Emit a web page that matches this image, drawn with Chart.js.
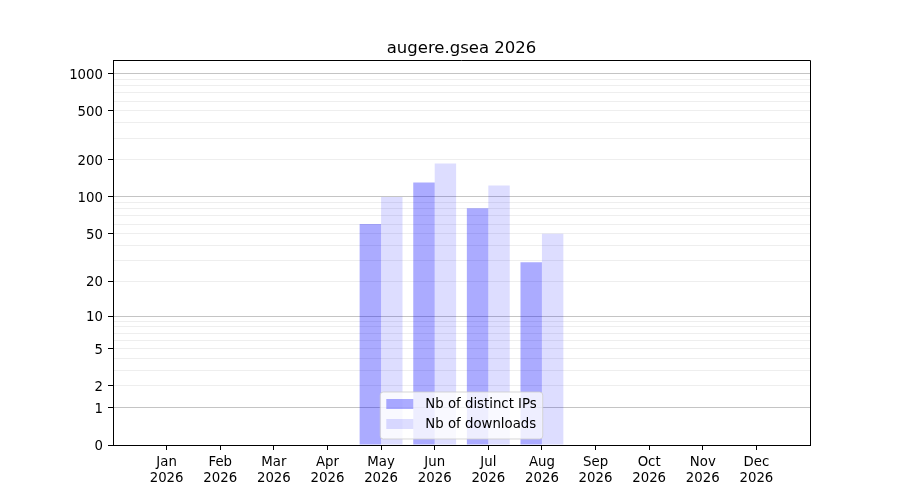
<!DOCTYPE html>
<html>
<head>
<meta charset="utf-8">
<script src="https://cdn.jsdelivr.net/npm/chart.js@4.4.1/dist/chart.umd.min.js"></script>
<style>
  body { margin: 0; background: #fff; }
  canvas { display: block; }
</style>
</head>
<body>
<canvas id="downloads-chart" width="900" height="500"></canvas>
<script>
const TITLE = 'augere.gsea 2026';
const YEAR = '2026';
const MONTHS = ['Jan', 'Feb', 'Mar', 'Apr', 'May', 'Jun', 'Jul', 'Aug', 'Sep', 'Oct', 'Nov', 'Dec'];
const DISTINCT_IPS = [0, 0, 0, 0, 60, 131, 81, 29, 0, 0, 0, 0];
const DOWNLOADS = [0, 0, 0, 0, 100, 187, 124, 50, 0, 0, 0, 0];
const Y_TICK_LABELS = [0, 1, 2, 5, 10, 20, 50, 100, 200, 500, 1000];
const Y_GRID_VALUES = [0, 1, 2, 3, 4, 5, 6, 7, 8, 9, 10, 20, 30, 40, 50, 60, 70, 80, 90, 100,
    200, 300, 400, 500, 600, 700, 800, 900, 1000];
const Y_MAX = 1290;

const FONT = "'DejaVu Sans', sans-serif";

// y axis drawn on log10(1 + value), so that 0 still fits
class Log1pScale extends Chart.Scale {
    determineDataLimits() {
        const { min, max } = this.getMinMax(true);
        this.min = this.options.min ?? min;
        this.max = this.options.max ?? max;
    }
    buildTicks() {
        return Y_GRID_VALUES.filter(v => v >= this.min && v <= this.max).map(v => ({ value: v }));
    }
    configure() {
        super.configure();
        this._lo = Math.log10(1 + this.min);
        this._span = Math.log10(1 + this.max) - this._lo;
    }
    getLabelForValue(value) {
        return String(value);
    }
    getPixelForValue(value) {
        return this.getPixelForDecimal((Math.log10(1 + value) - this._lo) / this._span);
    }
    getValueForPixel(pixel) {
        return Math.pow(10, this._lo + this.getDecimalForPixel(pixel) * this._span) - 1;
    }
}
Log1pScale.id = 'log1p';
Log1pScale.defaults = {};
Chart.register(Log1pScale);

function isPowerOfTen(v) {
    return v >= 1 && Math.abs(Math.log10(v) - Math.round(Math.log10(v))) < 1e-9;
}

// top and right spines, title centred over the axes
const framePlugin = {
    id: 'frame',
    afterDatasetsDraw(chart) {
        const { ctx, chartArea: a } = chart;
        ctx.save();
        ctx.strokeStyle = '#000';
        ctx.lineWidth = 1;
        ctx.beginPath();
        ctx.moveTo(a.left, a.top + 0.5);
        ctx.lineTo(a.right + 0.5, a.top + 0.5);
        ctx.lineTo(a.right + 0.5, a.bottom);
        ctx.stroke();

        ctx.font = '16.5px ' + FONT;
        ctx.fillStyle = '#000';
        ctx.textAlign = 'center';
        ctx.textBaseline = 'alphabetic';
        ctx.fillText(TITLE, (a.left + a.right) / 2, a.top - 7);
        ctx.restore();
    }
};

// matplotlib-like legend, lower centre, inside the axes
const innerLegendPlugin = {
    id: 'innerLegend',
    afterDraw(chart) {
        const { ctx, chartArea: a } = chart;
        const datasets = chart.data.datasets;
        ctx.save();
        ctx.font = '13.3px ' + FONT;
        const textW = Math.max(...datasets.map(d => ctx.measureText(d.label).width));
        const handleW = 27, handleH = 10, rowH = 20;
        const boxW = 6 + handleW + 12 + textW + 6;
        const boxH = 7 + rowH * datasets.length;
        const x0 = (a.left + a.right) / 2 - boxW / 2;
        const y0 = a.bottom - 6 - boxH;

        ctx.beginPath();
        ctx.roundRect(x0, y0, boxW, boxH, 3);
        ctx.fillStyle = 'rgba(255,255,255,0.8)';
        ctx.fill();
        ctx.strokeStyle = 'rgba(204,204,204,0.8)';
        ctx.lineWidth = 1;
        ctx.stroke();

        datasets.forEach((d, i) => {
            const cy = y0 + 12 + i * rowH;
            ctx.fillStyle = d.backgroundColor;
            ctx.fillRect(x0 + 6, cy - handleH / 2, handleW, handleH);
            ctx.fillStyle = '#000';
            ctx.textBaseline = 'middle';
            ctx.textAlign = 'left';
            ctx.fillText(d.label, x0 + 6 + handleW + 12, cy + 1);
        });
        ctx.restore();
    }
};

const ctx = document.getElementById('downloads-chart').getContext('2d');
new Chart(ctx, {
    type: 'bar',
    data: {
        datasets: [
            {
                label: 'Nb of distinct IPs',
                data: MONTHS.map((m, i) => ({ x: i + 1, y: DISTINCT_IPS[i] })),
                backgroundColor: 'rgba(0, 0, 255, 0.33)',
                borderWidth: 0,
                categoryPercentage: 0.8,
                barPercentage: 1.0
            },
            {
                label: 'Nb of downloads',
                data: MONTHS.map((m, i) => ({ x: i + 1, y: DOWNLOADS[i] })),
                backgroundColor: 'rgba(0, 0, 255, 0.135)',
                borderWidth: 0,
                categoryPercentage: 0.8,
                barPercentage: 1.0
            }
        ]
    },
    options: {
        responsive: false,
        animation: false,
        devicePixelRatio: 1,
        layout: {
            padding: { top: 60, right: 90, bottom: 0, left: 0 }
        },
        plugins: {
            legend: { display: false },
            tooltip: { enabled: false },
            title: { display: false }
        },
        scales: {
            x: {
                type: 'linear',
                min: 0,
                max: 13,
                offset: false,
                afterBuildTicks: scale => {
                    scale.ticks = MONTHS.map((m, i) => ({ value: i + 1 }));
                },
                afterFit: scale => { scale.height = 55; },
                ticks: {
                    autoSkip: false,
                    maxRotation: 0,
                    padding: 4,
                    color: '#000',
                    font: { family: FONT, size: 13.3, lineHeight: 1.22 },
                    callback: value => [MONTHS[value - 1], YEAR]
                },
                grid: {
                    offset: false,
                    drawOnChartArea: false,
                    tickLength: 5,
                    color: '#000',
                    tickColor: '#000'
                },
                border: { display: true, color: '#000', width: 1 }
            },
            y: {
                type: 'log1p',
                min: 0,
                max: Y_MAX,
                afterFit: scale => { scale.width = 113; },
                ticks: {
                    autoSkip: false,
                    padding: 5,
                    labelOffset: 1.5,
                    color: '#000',
                    font: { family: FONT, size: 13.3 },
                    callback: value => (Y_TICK_LABELS.includes(value) ? String(value) : '')
                },
                grid: {
                    tickLength: 5,
                    lineWidth: 1,
                    color: c => {
                        const v = c.tick ? c.tick.value : 0;
                        if (v === 0) return 'rgba(0,0,0,0)';
                        return isPowerOfTen(v) ? '#c4c4c4' : '#eeeeee';
                    },
                    tickColor: c => {
                        const v = c.tick ? c.tick.value : -1;
                        return Y_TICK_LABELS.includes(v) ? '#000' : 'rgba(0,0,0,0)';
                    }
                },
                border: { display: true, color: '#000', width: 1 }
            }
        }
    },
    plugins: [framePlugin, innerLegendPlugin]
});
</script>
</body>
</html>
